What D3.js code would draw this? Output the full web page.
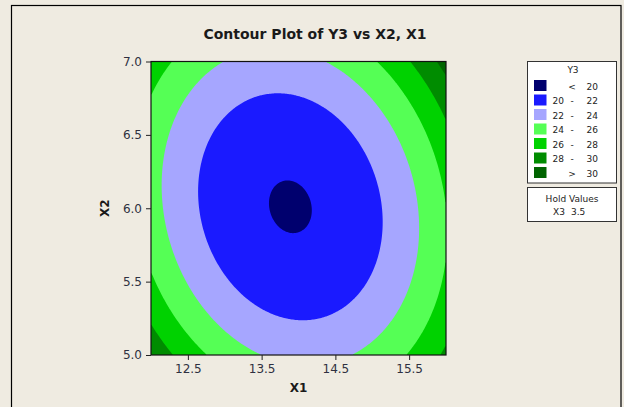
<!DOCTYPE html>
<html>
<head>
<meta charset="utf-8">
<script src="https://cdn.jsdelivr.net/npm/d3@7"></script>
<style>
  body { margin: 0; background: #efebe1; }
  text { font-family: "DejaVu Sans", Verdana, sans-serif; }
</style>
</head>
<body>
<div id="chart"></div>
<script>
const width = 624,
height = 407;

// contour levels and legend
const levels = [20, 22, 24, 26, 28, 30];
const levelColors = ["#00006e", "#1a1aff", "#a6a6ff", "#55ff55", "#00d200", "#008c00", "#006400"];
const legendLow = ["", "20", "22", "24", "26", "28", ""];
const legendSep = ["<", "-", "-", "-", "-", "-", ">"];
const legendHigh = ["20", "22", "24", "26", "28", "30", "30"];

// axes
const xDomain = [12, 16];
const yDomain = [5, 7];
const xTicks = [12.5, 13.5, 14.5, 15.5];
const yTicks = [5.0, 5.5, 6.0, 6.5, 7.0];

// fitted response surface (X3 held at 3.5)
const holdValues = ["X3", "3.5"];
const surfCenter = [13.89, 6.01];   // X1, X2 of minimum
const surfMin = [19.886];
const surfQuad = [1.375, 3.6, 0.6]; // X1^2, X2^2, X1*X2

const plot = {left: 151, top: 61.5, right: 446, bottom: 355};

const svg = d3.select("#chart")
  .append("svg")
  .attr("width", width)
  .attr("height", height);

// outer frame
svg.append("rect")
  .attr("x", 11.5).attr("y", 5.5)
  .attr("width", 609.5).attr("height", 420)
  .attr("fill", "none").attr("stroke", "black").attr("stroke-width", 1.2);

const x = d3.scaleLinear().domain(xDomain).range([plot.left, plot.right]);
const y = d3.scaleLinear().domain(yDomain).range([plot.bottom, plot.top]);

// grid of Y3 values
const nx = 240, ny = 240;
const grid = new Array(nx * ny);
for (let j = 0; j < ny; j++) {
  for (let i = 0; i < nx; i++) {
    const u = xDomain[0] + (i + 0.5) / nx * (xDomain[1] - xDomain[0]) - surfCenter[0];
    const v = yDomain[1] - (j + 0.5) / ny * (yDomain[1] - yDomain[0]) - surfCenter[1];
    grid[j * nx + i] = surfMin[0] + surfQuad[0] * u * u + surfQuad[1] * v * v + surfQuad[2] * u * v;
  }
}

const contours = d3.contours().size([nx, ny]).thresholds(levels)(grid);

const proj = d3.geoTransform({
  point: function(gx, gy) {
    const X = xDomain[0] + gx / nx * (xDomain[1] - xDomain[0]);
    const Y = yDomain[1] - gy / ny * (yDomain[1] - yDomain[0]);
    this.stream.point(x(X), y(Y));
  }
});
const path = d3.geoPath(proj);

svg.append("clipPath").attr("id", "clip")
  .append("rect")
  .attr("x", plot.left).attr("y", plot.top)
  .attr("width", plot.right - plot.left).attr("height", plot.bottom - plot.top);

const g = svg.append("g").attr("clip-path", "url(#clip)");
g.append("rect")
  .attr("x", plot.left).attr("y", plot.top)
  .attr("width", plot.right - plot.left).attr("height", plot.bottom - plot.top)
  .attr("fill", levelColors[0]);

g.selectAll("path")
  .data(contours)
  .join("path")
  .attr("d", path)
  .attr("fill", (d, i) => levelColors[i + 1]);

svg.append("rect")
  .attr("x", plot.left).attr("y", plot.top)
  .attr("width", plot.right - plot.left).attr("height", plot.bottom - plot.top)
  .attr("fill", "none").attr("stroke", "#111").attr("stroke-width", 1.2);

// axes
const xAxis = svg.append("g")
  .attr("transform", `translate(0,${plot.bottom})`)
  .call(d3.axisBottom(x).tickValues(xTicks).tickFormat(d3.format(".1f")).tickSize(5).tickPadding(4));
const yAxis = svg.append("g")
  .attr("transform", `translate(${plot.left},0)`)
  .call(d3.axisLeft(y).tickValues(yTicks).tickFormat(d3.format(".1f")).tickSize(5).tickPadding(4));
[xAxis, yAxis].forEach(a => {
  a.select(".domain").remove();
  a.selectAll("line").attr("stroke", "#222");
  a.selectAll("text")
    .attr("fill", "#2e3040")
    .style("font-size", "12px")
    .style("font-family", "'DejaVu Sans', sans-serif");
});

// titles
svg.append("text")
  .attr("x", 315).attr("y", 39)
  .attr("text-anchor", "middle")
  .style("font-size", "14px").style("font-weight", "bold")
  .attr("fill", "#1a1a1a")
  .text("Contour Plot of Y3 vs X2, X1");

svg.append("text")
  .attr("x", (plot.left + plot.right) / 2).attr("y", 392)
  .attr("text-anchor", "middle")
  .style("font-size", "12px").style("font-weight", "bold")
  .attr("fill", "#1a1a1a")
  .text("X1");

svg.append("text")
  .attr("transform", `translate(109,${(plot.top + plot.bottom) / 2}) rotate(-90)`)
  .attr("text-anchor", "middle")
  .style("font-size", "12px").style("font-weight", "bold")
  .attr("fill", "#1a1a1a")
  .text("X2");

// legend
const lg = svg.append("g");
lg.append("rect")
  .attr("x", 527.5).attr("y", 61.5).attr("width", 89).attr("height", 121.5)
  .attr("fill", "white").attr("stroke", "#333");
lg.append("text")
  .attr("x", 573).attr("y", 73)
  .attr("text-anchor", "middle")
  .style("font-size", "9px").attr("fill", "#222")
  .text("Y3");

const rows = lg.selectAll("g.row")
  .data(levelColors)
  .join("g")
  .attr("class", "row")
  .attr("transform", (d, i) => `translate(0,${86 + i * 14.5})`);
rows.append("rect")
  .attr("x", 534).attr("y", -6).attr("width", 12.5).attr("height", 11)
  .attr("fill", d => d);
rows.append("text")
  .attr("x", 564).attr("y", 3.5).attr("text-anchor", "end")
  .style("font-size", "9px").attr("fill", "#222")
  .text((d, i) => legendLow[i]);
rows.append("text")
  .attr("x", 572).attr("y", 3.5).attr("text-anchor", "middle")
  .style("font-size", "9px").attr("fill", "#222")
  .text((d, i) => legendSep[i]);
rows.append("text")
  .attr("x", 598).attr("y", 3.5).attr("text-anchor", "end")
  .style("font-size", "9px").attr("fill", "#222")
  .text((d, i) => legendHigh[i]);

lg.append("rect")
  .attr("x", 527.5).attr("y", 187.5).attr("width", 89).attr("height", 34)
  .attr("fill", "white").attr("stroke", "#333");
lg.append("text")
  .attr("x", 572).attr("y", 202)
  .attr("text-anchor", "middle")
  .style("font-size", "9px").attr("fill", "#222")
  .text("Hold Values");
lg.append("text")
  .attr("x", 565).attr("y", 215)
  .attr("text-anchor", "end")
  .style("font-size", "9px").attr("fill", "#222")
  .text(holdValues[0]);
lg.append("text")
  .attr("x", 571).attr("y", 215)
  .attr("text-anchor", "start")
  .style("font-size", "9px").attr("fill", "#222")
  .text(holdValues[1]);
</script>
</body>
</html>
